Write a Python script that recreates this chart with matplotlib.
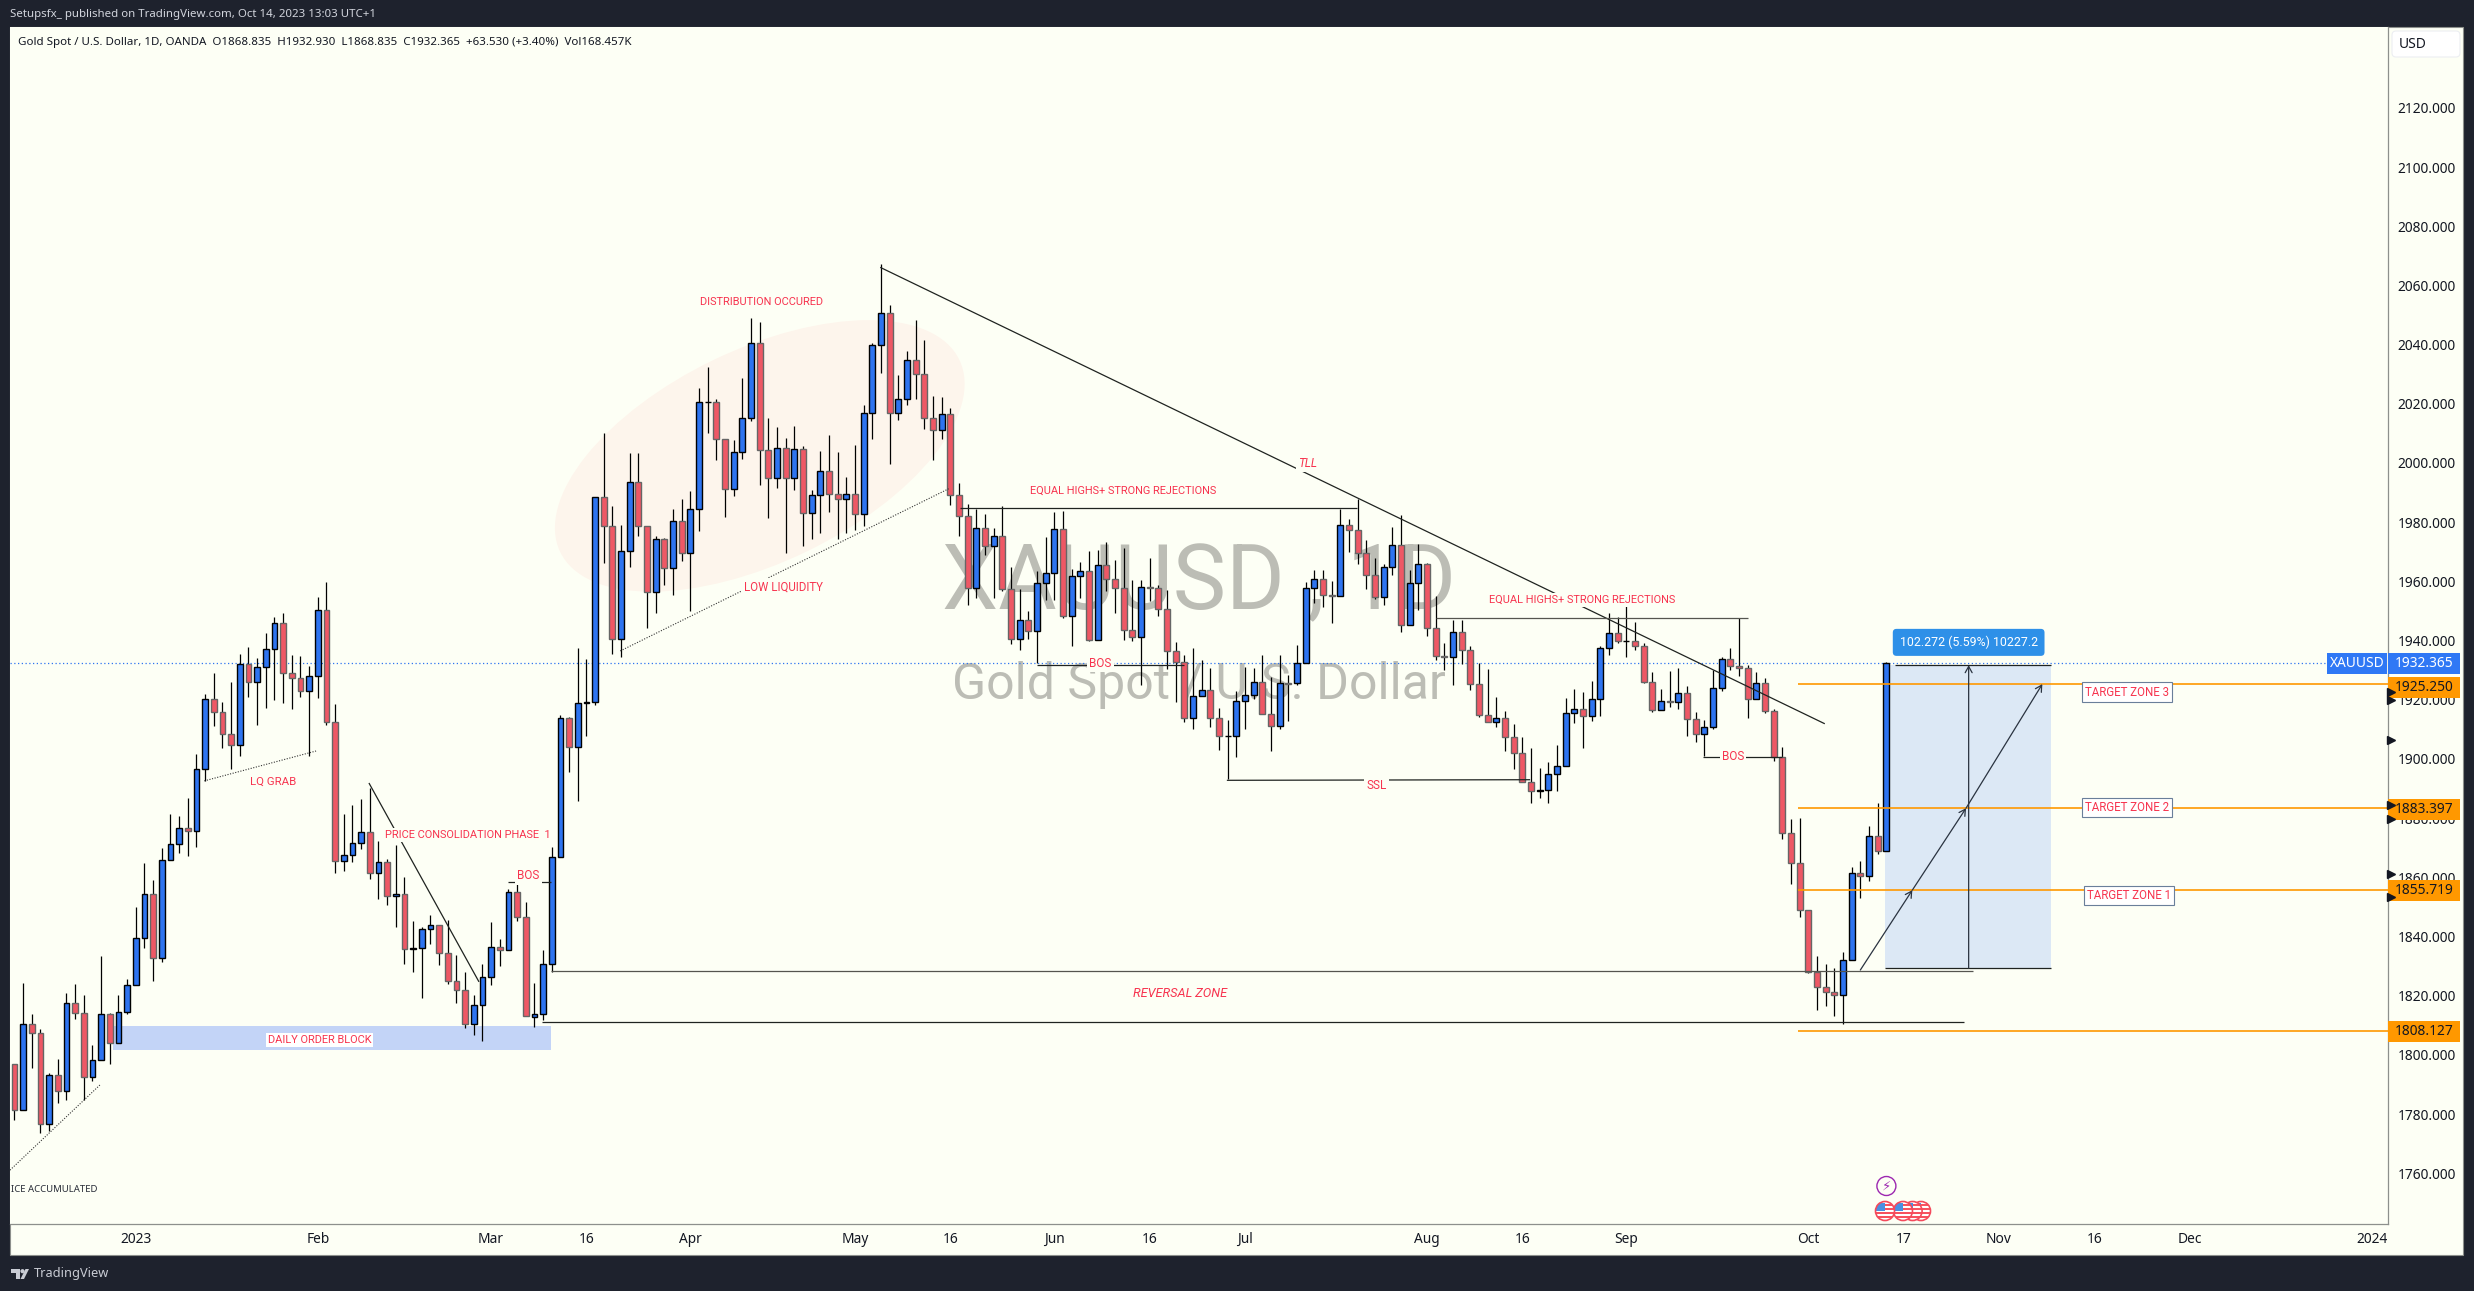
import matplotlib
matplotlib.use("Agg")
import matplotlib.pyplot as plt
from matplotlib.patches import Rectangle, Ellipse, Circle, Polygon, FancyBboxPatch
from matplotlib.transforms import IdentityTransform, blended_transform_factory

plt.rcParams['font.family'] = ['Noto Sans', 'DejaVu Sans']

opens = [1797.1,1781.4,1810.6,1807.3,1776.7,1793.1,1787.7,1817.7,1814.2,1792.4,
1798.2,1813.7,1804.1,1814.6,1823.5,1839.6,1854.4,1832.6,1866,1871.4,
1876.8,1875.8,1896.7,1920.1,1916,1908.6,1904.6,1932.2,1925.9,1931.2,
1937.3,1946,1929.2,1927.5,1923.1,1928.2,1950.2,1912.6,1865.6,1867.4,
1871.7,1875.4,1861.6,1865.3,1853.6,1854.3,1835.9,1836.2,1842.4,1843.8,
1834.5,1825.1,1822.1,1810.6,1817,1826.5,1836.6,1835.6,1855.1,1846.7,
1812.9,1813.7,1830.8,1867,1913.7,1903.9,1918.8,1919.1,1988.4,1978.8,
1940.4,1970.2,1993.5,1978.8,1956.3,1974.2,1964.4,1980.3,1969.5,1984.3,
2020.5,2020.7,2008,1991.1,2003.6,2015.1,2040.4,2004.3,1995,2005,
1994.8,2004.6,1983,1989.1,1997.2,1989.4,1987.7,1989.4,1982.7,2016.8,
2039.7,2050.6,2016.8,2021.5,2034.7,2030,2015.1,2011,2016.4,1989.1,
1982,1957.7,1977.9,1971.8,1975.2,1957.3,1940.4,1946.8,1943.1,1959.3,
1962.7,1977.6,1948.2,1961.7,1963.4,1940.1,1965.4,1960.7,1957.7,1943.5,
1941.1,1958,1957.7,1950.6,1936.4,1932.7,1913.7,1921.2,1923.2,1913.7,
1907.7,1907.9,1919.5,1921.5,1925.9,1915.1,1911,1925.6,1925.6,1932.3,
1957.7,1960.7,1955.3,1955,1978.9,1977.2,1969.5,1962,1954.6,1964.7,
1972.2,1945.2,1959.3,1965.8,1944.1,1934.7,1934.4,1942.8,1936.7,1925.2,
1914.8,1912.4,1913.7,1907.3,1901.9,1892.1,1889.1,1889.4,1894.8,1897.5,
1915.4,1916.8,1914.4,1920.2,1937.4,1942.5,1939.8,1939.9,1938.3,1925.9,
1916.4,1919.5,1919.3,1922.2,1913.4,1908.3,1910.7,1923.9,1933.7,1931.3,
1930.6,1920.2,1925.6,1916.1,1900.6,1874.9,1864.8,1848.9,1827.9,1822.9,
1821.2,1820.2,1832,1861.4,1860.4,1873.9,1868.835]

closes = [1781.4,1810.6,1807.3,1776.7,1793.1,1787.7,1817.7,1814.2,1792.4,1798.2,
1813.7,1804.1,1814.6,1823.5,1839.6,1854.4,1832.6,1866,1871.4,1876.8,
1875.8,1896.7,1920.1,1916,1908.6,1904.6,1932.2,1925.9,1931.2,1937.3,
1946,1929.2,1927.5,1923.1,1928.2,1950.2,1912.6,1865.6,1867.4,1871.7,
1875.4,1861.6,1865.3,1853.6,1854.3,1835.9,1836.2,1842.4,1843.8,1834.5,
1825.1,1822.1,1810.6,1817,1826.5,1836.6,1835.6,1855.1,1846.7,1813.2,
1813.7,1830.8,1867,1913.7,1903.9,1918.8,1919.1,1988.4,1978.8,1940.4,
1970.2,1993.5,1978.8,1956.3,1974.2,1964.4,1980.3,1969.5,1984.3,2020.5,
2020.7,2008,1991.1,2003.6,2015.1,2040.4,2004.3,1995,2005,1994.8,
2004.6,1983,1989.1,1997.2,1989.4,1987.7,1989.4,1982.7,2016.8,2039.7,
2050.6,2016.8,2021.5,2034.7,2030,2015.1,2011,2016.4,1989.1,1982,
1957.7,1977.9,1971.8,1975.2,1957.3,1940.4,1946.8,1943.1,1959.3,1962.7,
1977.6,1948.2,1961.7,1963.4,1940.1,1965.4,1960.7,1957.7,1943.5,1941.1,
1958,1957.7,1950.6,1936.4,1932.7,1913.7,1921.2,1923.2,1913.7,1907.7,
1907.9,1919.5,1921.5,1925.9,1915.1,1911,1925.6,1925.5,1932.3,1957.7,
1960.7,1955.3,1955,1978.9,1977.2,1969.5,1962,1954.6,1964.7,1972.2,
1945.2,1959.3,1965.8,1944.1,1934.7,1934.4,1942.8,1936.7,1925.2,1914.8,
1912.4,1913.7,1907.3,1901.9,1892.1,1889.1,1889.4,1894.8,1897.5,1915.4,
1916.8,1914.4,1920.2,1937.4,1942.5,1939.8,1939.9,1938.3,1925.9,1916.4,
1919.5,1919.3,1922.2,1913.4,1908.3,1910.7,1923.9,1933.7,1931.3,1930.6,
1920.2,1925.6,1916.1,1900.6,1874.9,1864.8,1848.9,1827.9,1822.9,1821.2,
1820.2,1832,1861.4,1860.4,1873.9,1868.8,1932.365]

highs = [1797.1,1824.4,1813.9,1808.7,1794,1798.5,1821.1,1823.9,1820.4,1803.4,
1833.5,1814.2,1820.2,1825.8,1849.9,1864.9,1859.2,1869.8,1881.5,1880.7,
1886.8,1901.6,1921.9,1929.1,1919.1,1925.9,1935.5,1937.8,1934,1942.5,
1948.1,1949.2,1935.2,1934.8,1931.3,1954.8,1959.8,1918.6,1881.3,1884.5,
1886.4,1890.3,1872.3,1866.3,1870.9,1860,1845.2,1843.4,1847.4,1843.8,
1845.7,1833.8,1827.9,1820.2,1830.8,1844.8,1839.2,1856.2,1858.6,1851.6,
1824.4,1835.6,1870.2,1914.7,1914.2,1937.4,1933.7,1988.4,2010.1,1985.4,
1978.9,2003.4,2003.4,1978.8,1975.3,1974.5,1984.3,1987.8,1990.4,2025.2,
2032.4,2021.5,2008,2007.7,2028.6,2048.9,2047.5,2015.1,2012,2008.3,
2012.4,2005.6,1990.9,2004,2009.3,2003.6,1995.2,2006,2019.5,2040.4,
2067.1,2053.3,2029.6,2037.7,2048.2,2041.4,2022.5,2022.2,2018.5,1993.1,
1986,1984.3,1982.7,1977.9,1985.5,1964.9,1957.3,1949.9,1963.5,1974.9,
1983.4,1983.8,1964.1,1966.4,1970.2,1970.5,1973.2,1967.1,1971.2,1960.4,
1960.4,1967.9,1958.7,1957,1939.4,1935,1937.4,1933.3,1930.6,1917.1,
1913.1,1922.9,1931,1930.6,1935,1927.6,1935,1928.3,1938.4,1959.7,
1963.7,1963.7,1960,1984.3,1981,1987.9,1973.9,1967.8,1965.8,1978.3,
1982.3,1963.7,1972.5,1966.1,1955,1939.1,1946.8,1946.8,1938.1,1932.3,
1930.3,1920.8,1916.1,1911.7,1907.3,1903.6,1896.8,1898.9,1904.6,1920.5,
1923.5,1922.5,1926.2,1938.1,1949.2,1947.9,1952.9,1946.2,1939.1,1929.3,
1923.5,1929.6,1930.6,1924.5,1915.8,1913.1,1930,1934.3,1937.4,1947.5,
1931.6,1929.3,1927.3,1916.8,1903.9,1879.6,1880,1848.9,1833.3,1830.7,
1829.3,1834.7,1863.5,1865.4,1877.3,1885.1,1932.93]

lows = [1777.9,1781.4,1795.7,1773.7,1774.4,1783.8,1784.9,1812,1784.9,1791.2,
1798.2,1796.8,1804.1,1813.7,1823.5,1836.1,1825.1,1831.4,1866,1868.1,
1867.2,1870.2,1892.5,1911.1,1903.7,1896.7,1900.9,1920.8,1911.6,1917.2,
1920,1918.9,1916.8,1920.8,1901.1,1920.7,1911.6,1861.4,1862.3,1865.3,
1869.5,1859.3,1852.7,1850.6,1843.4,1830.8,1827.9,1819.1,1837.5,1830.5,
1823.9,1817.6,1809,1806.7,1804.8,1823.5,1830,1835.6,1845.2,1813.2,
1809.5,1811.8,1828,1867,1895.5,1885.9,1907.9,1918.2,1966.3,1935.5,
1934.6,1965,1975.3,1944.4,1949.4,1958.9,1955.5,1967,1950.1,1977.1,
2010.2,2001,1981.9,1988.8,2001.3,2014.2,1992.6,1981.5,1991.7,1969.7,
1990.9,1972.1,1974.4,1976.2,1983.6,1974.4,1976.2,1977.4,1978.7,2008.2,
2030.5,1999.8,2014.5,2019.6,2021.6,2011.5,2001,2008.2,1985.8,1975.4,
1952.1,1954.5,1968.9,1954.5,1956.9,1939,1936.9,1940.6,1932.3,1953.7,
1953.7,1947.7,1938.3,1954.5,1939.9,1940.1,1956.9,1949.4,1940.3,1940,
1925,1953.5,1948.2,1930.3,1919.4,1912.6,1910.2,1921.2,1910.9,1903.2,
1893.4,1900.8,1910.2,1920.2,1915.1,1902.8,1910,1912.9,1924.9,1932.3,
1952.8,1951.2,1946,1955,1970,1965.8,1957.3,1953.9,1952.1,1962.3,
1942.9,1945.2,1950.2,1941.7,1933.3,1930,1925.1,1932,1923.2,1914.3,
1912.4,1910.9,1902.8,1896.7,1892.1,1885.2,1886.9,1885,1889.3,1897.5,
1912,1903.8,1912.9,1914.6,1935.1,1939.1,1934.6,1936.8,1925.6,1915.8,
1916.4,1917.7,1916.8,1907.9,1905.9,1901,1910,1922.9,1930,1927.9,
1914,1920.2,1915.4,1899.4,1872.9,1857.9,1846.5,1827.6,1815.3,1816.7,
1813.3,1810.6,1832,1853.2,1858.9,1868,1868.835]

price_ticks = list(range(1760, 2121, 20))
time_pos = [14, 35, 55, 66, 78, 97, 108, 120, 131, 142, 163, 174, 186, 207, 218, 229, 240, 251, 272]
time_labels = ['2023','Feb','Mar','16','Apr','May','16','Jun','16','Jul','Aug','16','Sep','Oct','17','Nov','16','Dec','2024']
target_levels = [1925.250, 1883.397, 1855.719, 1808.127]
last_price = 1932.365

W, H = 2474, 1291
DARK = '#1e222d'; PANEL = '#fdfff5'; BLUE = '#2e74f0'; RED = '#ee5865'
TXT = '#f7344f'; ORANGE = '#ff9800'; INK = '#131722'; GUIDE = '#1f2320'
LAB = 'Roboto'; SCALE_FS = 9.9

fig = plt.figure(figsize=(W/100, H/100), dpi=100, facecolor=DARK)
L, T, R, B = 10, 27, 2388, 1224
fig.add_artist(Rectangle((L/W, 1-1255/H), (2463-L)/W, (1255-T)/H, transform=fig.transFigure,
                         facecolor=PANEL, edgecolor='#8d908c', linewidth=0.8, zorder=-5))
ax = fig.add_axes([L/W, 1-B/H, (R-L)/W, (B-T)/H], facecolor=PANEL)
ax.set_xlim(-0.519, 273.89)
ax.set_ylim(1742.9, 2147.3)
for s in ['top', 'left']:
    ax.spines[s].set_visible(False)
for s in ['right', 'bottom']:
    ax.spines[s].set_color('#8d908c'); ax.spines[s].set_linewidth(0.9)
ax.yaxis.tick_right()
ax.set_yticks(price_ticks)
ax.set_yticklabels([f'{v:.3f}' for v in price_ticks], fontsize=SCALE_FS, color=INK)
ax.tick_params(axis='y', length=0, pad=7.0)
ax.set_xticks(time_pos)
ax.set_xticklabels(time_labels, fontsize=SCALE_FS, color=INK)
ax.tick_params(axis='x', length=0, pad=5.5)
for lab_ in ax.get_xticklabels():
    if lab_.get_text() in ('2023', '2024'):
        lab_.set_fontweight('bold')

# watermark
ax.text(0.5, 0.5347, 'XAUUSD , 1D', transform=ax.transAxes, ha='center', va='center',
        fontsize=64.5, color='#bcbdb5', zorder=1, family='Roboto')
ax.text(0.5, 0.4500, 'Gold Spot / U.S. Dollar', transform=ax.transAxes, ha='center', va='center',
        fontsize=36, color='#bcbdb5', zorder=1, family='Roboto')

# distribution ellipse (size in pixels)
cx, cy = ax.transData.transform((86, 2002.4))
ax.add_patch(Ellipse((cx, cy), 443, 213, angle=25.7, transform=IdentityTransform(),
                     facecolor='#fdf5ec', edgecolor='none', zorder=1.2))

# order block, long-position box
ax.add_patch(Rectangle((11.4, 1801.7), 50.5, 8.1, facecolor='#c3d4f7', edgecolor='none', zorder=1.3))
ax.add_patch(Rectangle((215.9, 1829.3), 19.1, 102.4, facecolor='#dce8f5', edgecolor='none', zorder=1.3))

# candles
xs = list(range(len(closes)))
ax.vlines(xs, lows, highs, color='#000000', linewidth=0.9, zorder=3)
for x, o, c in zip(xs, opens, closes):
    up = c >= o
    ax.bar(x, abs(c-o), bottom=min(o, c), width=0.68, color=BLUE if up else RED,
           edgecolor='#000000' if up else '#666666', linewidth=1.0, zorder=4)

# drawings
def seg(x0, y0, x1, y1, ls='-', c=GUIDE, lw=0.9, z=5):
    ax.plot([x0, x1], [y0, y1], linestyle=ls, color=c, linewidth=lw, zorder=z, solid_capstyle='butt')

DOT = (0, (1, 1.4))
seg(-0.52, 1761.1, 9.87, 1789.9, ls=DOT, c='#333333', lw=0.8)
seg(21.9, 1892.6, 34.8, 1902.7, ls=DOT, c='#333333', lw=0.8)
seg(69.9, 1936.5, 107.8, 1991.3, ls=DOT, c='#333333', lw=0.8)
seg(40.9, 1891.9, 53.6, 1824.7)
seg(56.9, 1858.6, 61.9, 1858.6)
seg(61.9, 1828.4, 226, 1828.4, c='#55554f')
seg(60.9, 1811, 225, 1811)
seg(99.9, 2066.1, 208.9, 1911.9)
seg(109.1, 1984.9, 154.9, 1984.9)
seg(164, 1947.6, 200, 1947.6, c='#55554f')
seg(118, 1931.6, 134.9, 1931.6)
seg(139.9, 1892.8, 174.9, 1893)
seg(194.9, 1900.6, 204, 1900.6)
seg(217, 1931.7, 235, 1931.7)
seg(215.9, 1829.3, 235, 1829.3)

for lvl in target_levels:
    ax.plot([205.8, 273.89], [lvl, lvl], color=ORANGE, linewidth=1.2, zorder=5, solid_capstyle='butt')
ax.axhline(last_price, color=BLUE, linestyle=(0, (1, 2)), linewidth=0.9, zorder=2)

def arrow(x0, y0, x1, y1):
    ax.annotate('', xy=(x1, y1), xytext=(x0, y0),
                arrowprops=dict(arrowstyle='->,head_length=0.45,head_width=0.25', color='#2a3340',
                                linewidth=0.9, shrinkA=0, shrinkB=0), zorder=6)
arrow(225.5, 1829.3, 225.5, 1931.7)
arrow(213, 1828.7, 219, 1855.7)
arrow(219, 1855.7, 225.2, 1883.4)
arrow(225.2, 1883.4, 234, 1925.3)

def lab(x, y, s, style='normal', fs=7.95, bg=True, color=TXT, ha='center', fam=LAB):
    t = ax.text(x, y, s, ha=ha, va='center', fontsize=fs, color=color, style=style, zorder=7, family=fam)
    if bg:
        t.set_bbox(dict(facecolor=PANEL, edgecolor='none', pad=1.6))
    return t

lab(29.8, 1892.2, 'LQ GRAB', fs=8.2)
lab(-0.44, 1754.7, 'ICE ACCUMULATED', color='#2a2e39', bg=False, ha='left', fs=6.9, fam='Noto Sans')
t = lab(35.2, 1805, 'DAILY ORDER BLOCK'); t.set_bbox(dict(facecolor='#ffffff', edgecolor='none', pad=1.4))
lab(52.3, 1874.3, 'PRICE CONSOLIDATION PHASE  1')
lab(59.3, 1860.5, 'BOS', fs=8.5)
lab(134.5, 1820.9, 'REVERSAL ZONE', style='italic', fs=9.2)
lab(86.2, 2054.4, 'DISTRIBUTION OCCURED', bg=False)
lab(88.7, 1958.1, 'LOW LIQUIDITY', fs=8.3)
lab(149.2, 1999.9, 'TLL', style='italic', fs=8.5)
lab(127.9, 1990.5, 'EQUAL HIGHS+ STRONG REJECTIONS', bg=False)
lab(180.9, 1953.7, 'EQUAL HIGHS+ STRONG REJECTIONS')
lab(125.3, 1932.3, 'BOS', fs=8.5)
lab(157.2, 1891.2, 'SSL', fs=8.5)
lab(198.3, 1900.7, 'BOS', fs=8.5)

for y, s, x in [(1922.6, 'TARGET ZONE 3', 243.8), (1883.6, 'TARGET ZONE 2', 243.8), (1854, 'TARGET ZONE 1', 244.0)]:
    ax.text(x, y, s, ha='center', va='center', fontsize=8.3, color=TXT, zorder=8, family=LAB,
            bbox=dict(facecolor='#ffffff', edgecolor='#6a7f9a', linewidth=0.8, pad=2.2))

ax.text(225.5, 1939.4, '102.272 (5.59%) 10227.2', ha='center', va='center', fontsize=8.9, color='#ffffff', zorder=8, family=LAB,
        bbox=dict(boxstyle='round,pad=0.55,rounding_size=0.3', facecolor='#2e90e8', edgecolor='none'))

# price scale tags
trans = blended_transform_factory(ax.transAxes, ax.transData)
tag_w = 72/(R-L); tag_h = 21/2.96
for lvl, ctr in zip(target_levels, [1925.25-1.0, 1883.397-0.4, 1855.719-0.2, 1808.127-0.3]):
    ax.add_patch(Rectangle((1.0, ctr-tag_h/2), tag_w, tag_h, transform=trans, facecolor=ORANGE, edgecolor='none',
                           clip_on=False, zorder=9))
    ax.text(1+tag_w/2, ctr, f'{lvl:.3f}', transform=trans, ha='center', va='center', fontsize=SCALE_FS,
            color=INK, clip_on=False, zorder=10)
ax.add_patch(Rectangle((1.0, last_price-tag_h/2), tag_w, tag_h, transform=trans, facecolor='#2f78f5', edgecolor='none',
                       clip_on=False, zorder=9))
ax.text(1+tag_w/2, last_price, f'{last_price:.3f}', transform=trans, ha='center', va='center', fontsize=SCALE_FS,
        color='#ffffff', clip_on=False, zorder=10)
ax.add_patch(Rectangle((1-61/(R-L), last_price-tag_h/2), 59.5/(R-L), tag_h, transform=trans, facecolor='#2f78f5',
                       edgecolor='none', clip_on=False, zorder=9))
ax.text(1-31/(R-L), last_price, 'XAUUSD', transform=trans, ha='center', va='center', fontsize=SCALE_FS,
        color='#ffffff', clip_on=False, zorder=10)

# alert markers on the scale
alerts = [1922.7, 1919.8, 1906.4, 1884.5, 1879.7, 1861.1, 1853.5]
ax.plot([1+3/(R-L)]*len(alerts), alerts, transform=trans, linestyle='none', marker='>', markersize=6,
        color=INK, clip_on=False, zorder=11)

# header and footer
fig.text(10/W, 1-15/H, 'Setupsfx_ published on TradingView.com, Oct 14, 2023 13:03 UTC+1',
         fontsize=8.25, color='#d1d4dc', va='center', ha='left')
fig.text(18/W, 1-42/H, 'Gold Spot / U.S. Dollar, 1D, OANDA  O1868.835  H1932.930  L1868.835  C1932.365  +63.530 (+3.40%)  Vol168.457K',
         fontsize=8.3, color=INK, va='center', ha='left')
fig.text(33.7/W, 1-1273/H, 'TradingView', fontsize=9.2, color='#c9ccd4', va='center', ha='left', fontweight='medium')
ident = IdentityTransform()
def P(x, y):
    return (x, H-y)
fig.add_artist(Polygon([P(11, 1269), P(20, 1269), P(20, 1279), P(15.5, 1279), P(15.5, 1273), P(11, 1273)],
                       transform=ident, facecolor='#c9ccd4', edgecolor='none'))
fig.add_artist(Circle(P(22.5, 1271.2), 2.1, transform=ident, facecolor='#c9ccd4', edgecolor='none'))
fig.add_artist(Polygon([P(24, 1279), P(29, 1269), P(25.5, 1269), P(20.5, 1279)],
                       transform=ident, facecolor='#c9ccd4', edgecolor='none'))

# event icons
fig.add_artist(Circle(P(1886.4, 1186), 9.5, transform=ident, facecolor=PANEL, edgecolor='#9c27b0', linewidth=1.0, zorder=6))
fig.text(1886.4/W, 1-1186/H, '\u26a1', fontsize=9.5, color='#9c27b0', ha='center', va='center', family='DejaVu Sans', zorder=7)
z = 6.0
for fx in [1921, 1912.6, 1903, 1885]:
    c = Circle(P(fx, 1211), 9.5, transform=ident, facecolor='#ffffff', edgecolor='none', zorder=z)
    fig.add_artist(c)
    for dy in [-6, -2, 2, 6]:
        s = Rectangle(P(fx-10, 1211+dy+1), 20, 2, transform=ident, facecolor='#f7525f', edgecolor='none', zorder=z+0.01)
        fig.add_artist(s); s.set_clip_path(c)
    r = Rectangle(P(fx-10, 1211), 10, 8, transform=ident, facecolor='#4a90e2', edgecolor='none', zorder=z+0.02)
    fig.add_artist(r); r.set_clip_path(c)
    fig.add_artist(Circle(P(fx, 1211), 9.5, transform=ident, facecolor='none', edgecolor='#f44a5c', linewidth=1.2, zorder=z+0.03))
    z += 0.1

# currency label
fig.add_artist(FancyBboxPatch(P(2394, 55), 64, 22, boxstyle='round,pad=2,rounding_size=4', transform=ident,
                              facecolor='#ffffff', edgecolor='#eceef2', linewidth=0.8, zorder=6))
fig.text(2413/W, 1-44/H, 'USD', fontsize=SCALE_FS, color=INK, ha='center', va='center', zorder=7)

fig.savefig('out.png', dpi=100, facecolor=DARK)
